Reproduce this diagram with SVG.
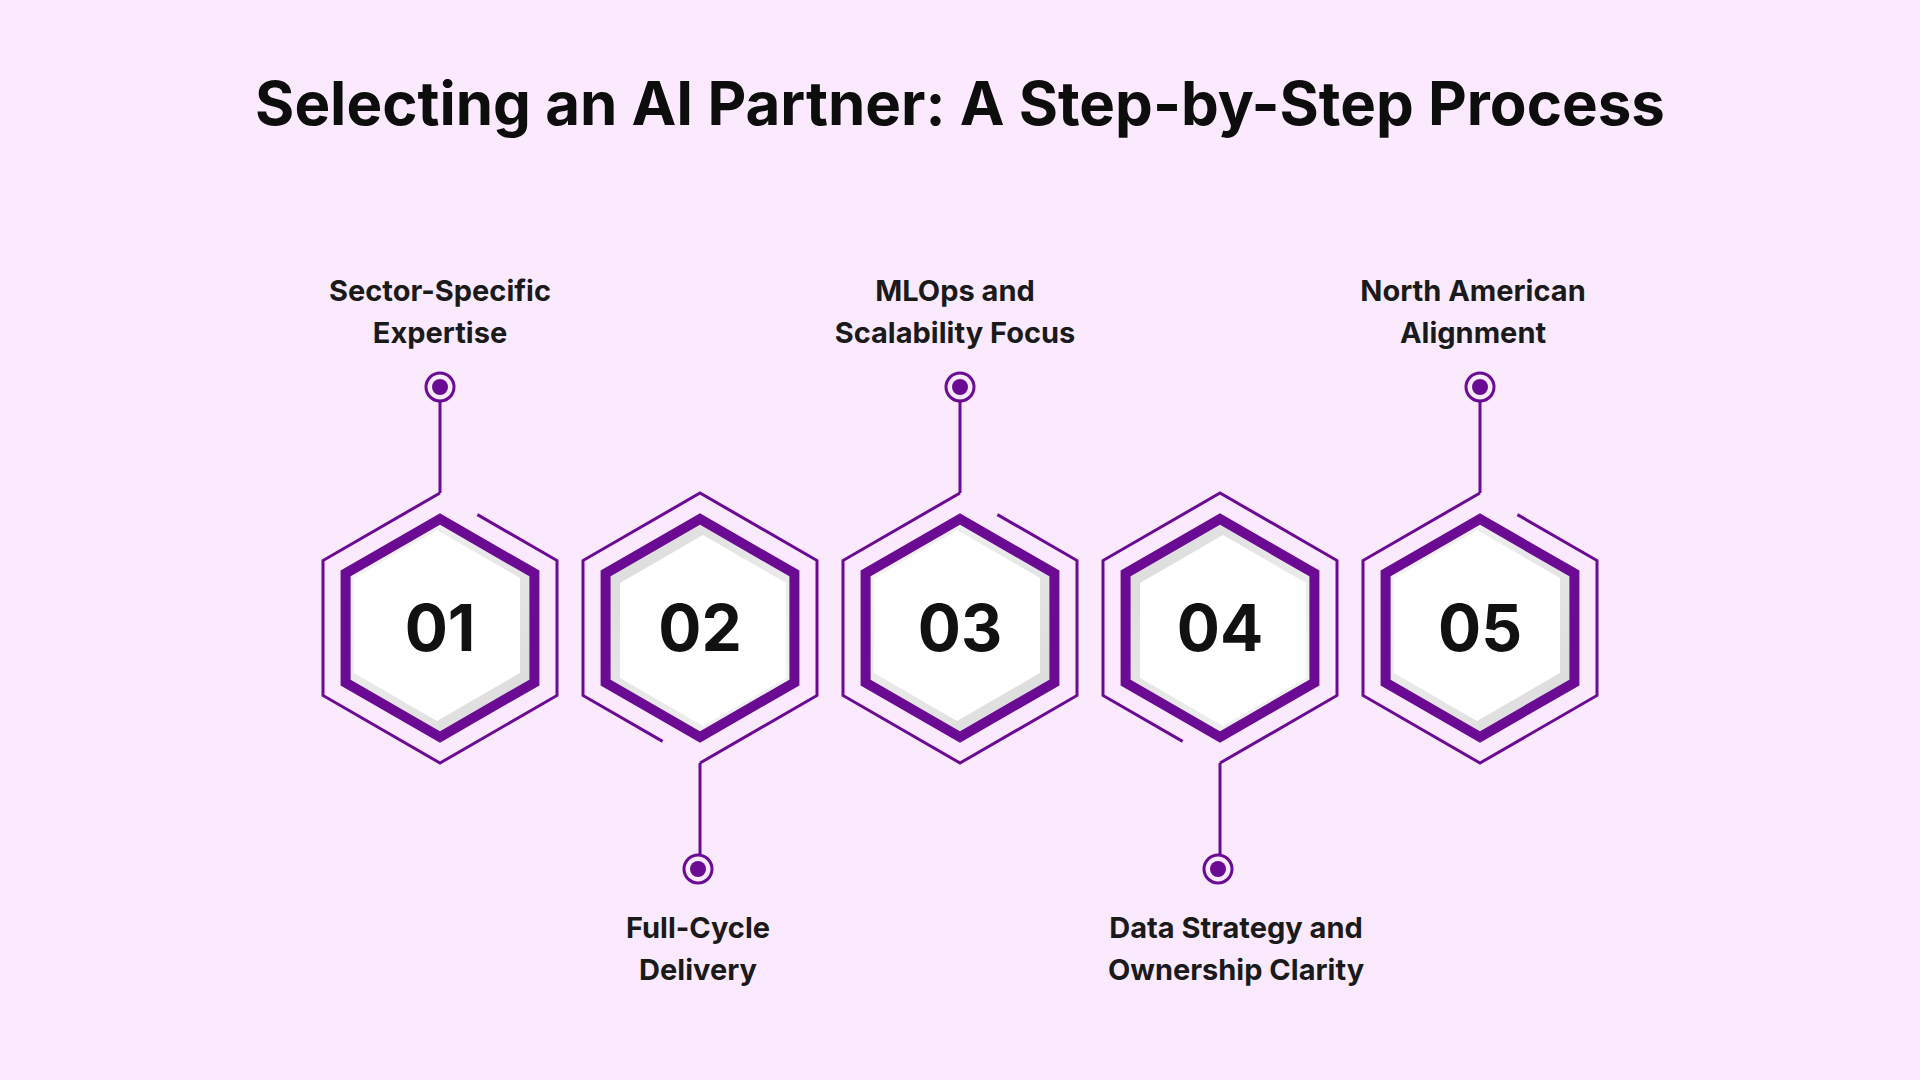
<svg xmlns="http://www.w3.org/2000/svg" xmlns:xlink="http://www.w3.org/1999/xlink" width="1920" height="1080" viewBox="0 0 1920 1080">
<defs>
<style>
.o{fill:none;stroke:#6b0a93;stroke-width:3}
.in{fill:url(#g);stroke:#6b0a93;stroke-width:10;stroke-linejoin:miter}
.w{fill:#ffffff}
.num{font-family:Inter,"Liberation Sans",sans-serif;font-weight:700;font-size:64px;fill:#111;text-anchor:middle}
.lbl{font-family:Inter,"Liberation Sans",sans-serif;font-weight:700;font-size:29px;fill:#1a1a1a;text-anchor:middle}
.title{font-family:Inter,"Liberation Sans",sans-serif;font-weight:700;font-size:60px;fill:#0d0d0d;text-anchor:middle}
.pin{fill:none;stroke:#6b0a93;stroke-width:3}
.dot{fill:#6b0a93}
</style>
<linearGradient id="g" x1="0" y1="0" x2="1" y2="1">
<stop offset="0" stop-color="#f6f6f6"/><stop offset="1" stop-color="#d9d9d9"/>
</linearGradient>
<g id="hex">
<path class="o" d="M37.4,-113.4 L117,-67.5 L117,67.5 L0,135 L-117,67.5 L-117,-67.5 L0,-135"/>
<polygon class="in" points="0,-109 94.4,-54.5 94.4,54.5 0,109 -94.4,54.5 -94.4,-54.5"/>
<polygon class="w" points="-3,-98 80,-50 80,45 -3,93 -86,45 -86,-50"/>
</g>
</defs>
<rect width="1920" height="1080" fill="#fbeafe"/>
<text class="title" x="960" y="125">Selecting an AI Partner: A Step-by-Step Process</text>
<g id="connectors">
<path class="o" d="M440,493 V400 M700,763 V856 M960,493 V400 M1220,763 V856 M1480,493 V400"/>
</g>
<g id="node1">
<use xlink:href="#hex" transform="translate(440,628)"/>
<text class="num" x="440" y="651">01</text>
<circle class="pin" cx="440" cy="387" r="14"/><circle class="dot" cx="440" cy="387" r="8"/>
<text class="lbl" x="440" y="301">Sector-Specific</text><text class="lbl" x="440" y="343">Expertise</text>
</g>
<g id="node2">
<use xlink:href="#hex" transform="translate(700,628) rotate(180)"/>
<text class="num" x="700" y="651">02</text>
<circle class="pin" cx="698" cy="869" r="14"/><circle class="dot" cx="698" cy="869" r="8"/>
<text class="lbl" x="698" y="938">Full-Cycle</text><text class="lbl" x="698" y="980">Delivery</text>
</g>
<g id="node3">
<use xlink:href="#hex" transform="translate(960,628)"/>
<text class="num" x="960" y="651">03</text>
<circle class="pin" cx="960" cy="387" r="14"/><circle class="dot" cx="960" cy="387" r="8"/>
<text class="lbl" x="955" y="301">MLOps and</text><text class="lbl" x="955" y="343">Scalability Focus</text>
</g>
<g id="node4">
<use xlink:href="#hex" transform="translate(1220,628) rotate(180)"/>
<text class="num" x="1220" y="651">04</text>
<circle class="pin" cx="1218" cy="869" r="14"/><circle class="dot" cx="1218" cy="869" r="8"/>
<text class="lbl" x="1236" y="938">Data Strategy and</text><text class="lbl" x="1236" y="980">Ownership Clarity</text>
</g>
<g id="node5">
<use xlink:href="#hex" transform="translate(1480,628)"/>
<text class="num" x="1480" y="651">05</text>
<circle class="pin" cx="1480" cy="387" r="14"/><circle class="dot" cx="1480" cy="387" r="8"/>
<text class="lbl" x="1473" y="301">North American</text><text class="lbl" x="1473" y="343">Alignment</text>
</g>
</svg>
